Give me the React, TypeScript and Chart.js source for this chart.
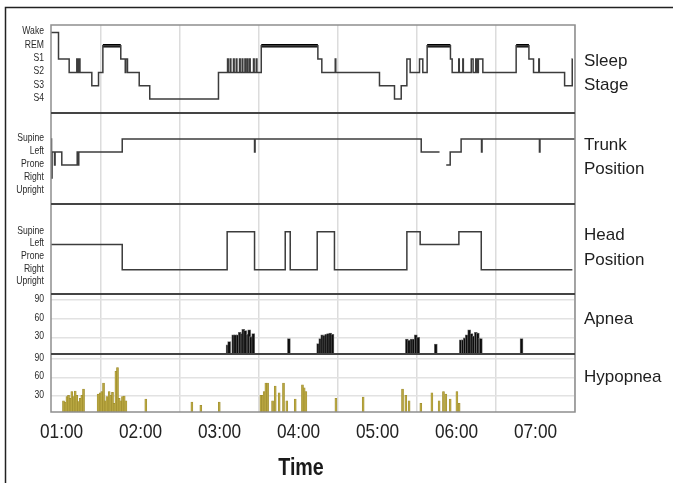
import React, { useEffect, useRef } from 'react';
import { Chart, registerables } from 'chart.js';

Chart.register(...registerables);

// ---- axis labels ----
const HOUR_TICKS = [60, 120, 180, 240, 300, 360, 420];
const TIME_LABELS = ['01:00', '02:00', '03:00', '04:00', '05:00', '06:00', '07:00'];
const STAGE_LABELS = ['S4', 'S3', 'S2', 'S1', 'REM', 'Wake'];
const POSITION_LABELS = ['Upright', 'Right', 'Prone', 'Left', 'Supine'];
const EVENT_TICKS = [30, 60, 90];
const X_TITLE = 'Time';

// ---- sleep stage (minutes since midnight, stage from then on) ----
const stageTimes = [
  52, 57.7, 65.8, 71.6, 72.1, 72.6, 73.1, 73.6, 74.0, 83, 88.1, 91.4, 105, 108.4, 108.8, 110.1, 119, 127,
  179.2, 186.1, 186.6, 188.1, 188.6, 190.6, 191.1, 192.7, 193.2, 195.2, 195.7, 197.2, 197.7, 199.3, 199.8,
  201.0, 201.5, 202.8, 203.3, 205.8, 206.3, 207.9, 208.4, 211.7, 254.7, 257.7, 267.9, 268.3, 301.5, 312.9,
  318, 322.3, 324.8, 331.9, 334.4, 337.7, 355.4, 356.7, 361.7, 362.1, 364.8, 365.2, 371.2, 372.6, 374.6,
  375.1, 375.6, 376.1, 376.6, 380, 405.3, 415, 418.5, 422.5, 422.9, 442.1, 447.9, 448.2,
];
const stageValues = [
  'Wake', 'S1', 'S2', 'S1', 'S2', 'S1', 'S2', 'S1', 'S2', 'S3', 'S2', 'REM', 'S1', 'S2', 'S1', 'S2', 'S3', 'S4',
  'S2', 'S1', 'S2', 'S1', 'S2', 'S1', 'S2', 'S1', 'S2', 'S1', 'S2', 'S1', 'S2', 'S1', 'S2',
  'S1', 'S2', 'S1', 'S2', 'S1', 'S2', 'S1', 'S2', 'REM', 'S1', 'S2', 'S1', 'S2', 'S3', 'S4',
  'S3', 'S1', 'S2', 'S1', 'S2', 'REM', 'S1', 'S2', 'S1', 'S2', 'S1', 'S2', 'S1', 'S2', 'S1',
  'S2', 'S1', 'S2', 'S1', 'S2', 'REM', 'S1', 'S2', 'S1', 'S2', 'S3', 'S1', 'S1',
];

// ---- trunk position ----
const trunkTimes = [
  52, 52.4, 52.8, 54.7, 55.1, 60.2, 71.9, 72.4, 73.1, 106.1, 206.6, 207, 333.2, 347.1, 347.2,
  352.2, 355.2, 363.5, 379, 379.4, 423, 423.4, 450,
];
const trunkValues = [
  'Supine', 'Right', 'Left', 'Prone', 'Left', 'Prone', 'Left', 'Prone', 'Left', 'Supine', 'Left', 'Supine', 'Left', 'Left', null,
  'Prone', 'Left', 'Supine', 'Left', 'Supine', 'Left', 'Supine', 'Supine',
];

// ---- head position ----
const headTimes = [52, 106.1, 185.8, 206.6, 229.9, 233.7, 254.2, 267.3, 322.3, 332.4, 361.8, 378.8, 448];
const headValues = ['Left', 'Right', 'Supine', 'Right', 'Supine', 'Right', 'Supine', 'Right', 'Supine', 'Left', 'Supine', 'Right', 'Right'];

// ---- apnea events ----
const apneaTimes = [
  186.1, 187.3, 190.4, 191.9, 193.7, 195.4, 196.7, 198, 199.5, 201.3, 202.5, 203.8, 205.6, 232.7,
  254.9, 256.5, 258, 259.5, 261, 262.5, 264.1, 265.8, 322.3, 324, 325.8, 327.3, 329.1, 330.9, 344.3,
  363.3, 364.8, 366.3, 367.8, 369.6, 371.4, 372.9, 374.7, 376.2, 377.5, 378.5, 409.4,
];
const apneaValues = [
  18, 23, 34, 34, 34, 38, 36, 43, 41, 35, 42, 31, 36, 28,
  20, 28, 34, 33, 35, 36, 37, 35, 27, 25, 27, 27, 34, 30, 19,
  26, 26, 29, 34, 42, 36, 32, 38, 37, 28, 28, 28,
];

// ---- hypopnea events ----
const hypopneaTimes = [
  61.5, 62.8, 64.1, 65.3, 66.6, 67.8, 69.1, 70.4, 71.6, 72.9, 74.2, 75.4, 76.7,
  87.8, 89.4, 90.6, 91.9, 93.2, 94.4, 96.2, 97.5, 98.7, 100, 101.3, 102.5, 103.8, 105.1, 106.3, 107.6, 108.9,
  124, 159, 165.8, 179.8,
  211.4, 212.7, 213.9, 215.2, 216.5, 220.3, 222.3, 225.3, 228.6, 231.1, 237.5, 243, 244.3, 245.6,
  268.4, 289.1, 319, 321.5, 324, 332.9, 341.3, 346.8, 350.1, 351.9, 355.2, 360.3, 362,
];
const hypopneaValues = [
  22, 20, 29, 31, 26, 37, 29, 38, 31, 21, 26, 31, 41,
  33, 35, 37, 51, 22, 29, 37, 31, 36, 18, 70, 76, 26, 22, 29, 30, 22,
  25, 20, 15, 20,
  31, 31, 37, 51, 51, 22, 46, 35, 51, 22, 25, 48, 43, 37,
  26, 28, 41, 31, 22, 18, 35, 22, 37, 33, 25, 37, 18,
];

const PANEL_TITLES = [
  { axis: 'yStage', lines: ['Sleep', 'Stage'], dy: 4.5 },
  { axis: 'yTrunk', lines: ['Trunk', 'Position'], dy: -1 },
  { axis: 'yHead', lines: ['Head', 'Position'], dy: -1 },
  { axis: 'yApnea', lines: ['Apnea'], dy: -5 },
  { axis: 'yHyp', lines: ['Hypopnea'], dy: -6 },
];

const REGULAR = '"Liberation Sans", Arial, sans-serif';
const SQUEEZE = 0.82; // emulate a narrow face

const toSteps = (times: number[], values: (string | null)[], labels: string[]) =>
  times.map((t, i) => ({ x: t, y: values[i] === null ? null : labels.indexOf(values[i] as string) }));

const remSegments = () => {
  const pts: { x: number; y: number | null }[] = [];
  stageValues.forEach((s, i) => {
    if (s === 'REM' && i + 1 < stageTimes.length) {
      const lvl = STAGE_LABELS.indexOf('REM');
      pts.push({ x: stageTimes[i], y: lvl }, { x: stageTimes[i + 1], y: lvl }, { x: stageTimes[i + 1] + 0.01, y: null });
    }
  });
  return pts;
};

const narrowText = (ctx: any, text: string, x: number, y: number, align: string) => {
  ctx.save();
  ctx.translate(x, y);
  ctx.scale(SQUEEZE, 1);
  ctx.textAlign = align;
  ctx.fillText(text, 0, 0);
  ctx.restore();
};

const panelFrame = {
  id: 'panelFrame',
  afterDraw(chart: any) {
    const { ctx, chartArea: a, scales } = chart;
    ctx.save();
    ctx.strokeStyle = '#8e8e8e';
    ctx.lineWidth = 1.5;
    ctx.strokeRect(a.left, a.top, a.right - a.left, a.bottom - a.top);
    ctx.strokeStyle = '#444';
    ctx.lineWidth = 2;
    ['yStage', 'yTrunk', 'yHead', 'yApnea'].forEach((id) => {
      const y = scales[id].bottom;
      ctx.beginPath();
      ctx.moveTo(a.left, y);
      ctx.lineTo(a.right, y);
      ctx.stroke();
    });

    // panel titles on the right
    ctx.fillStyle = '#1e1e1e';
    ctx.font = '17px ' + REGULAR;
    ctx.textAlign = 'left';
    ctx.textBaseline = 'middle';
    PANEL_TITLES.forEach((p) => {
      const s = scales[p.axis];
      const c = (s.top + s.bottom) / 2 + p.dy;
      p.lines.forEach((ln, i) => {
        ctx.fillText(ln, a.right + 9, c + (i - (p.lines.length - 1) / 2) * 24.5);
      });
    });

    // narrow tick labels
    ctx.fillStyle = '#2a2a2a';
    ctx.font = '10.5px ' + REGULAR;
    ['yStage', 'yTrunk', 'yHead', 'yApnea', 'yHyp'].forEach((id) => {
      const s = scales[id];
      s.ticks.forEach((t: any) => {
        narrowText(ctx, String(t.label ?? ''), a.left - 7, s.getPixelForValue(t.value) - 1, 'right');
      });
    });
    ctx.fillStyle = '#222';
    ctx.font = '21px ' + REGULAR;
    const xs = scales.x;
    HOUR_TICKS.forEach((v, i) => {
      narrowText(ctx, TIME_LABELS[i], xs.getPixelForValue(v), 432, 'center');
    });
    ctx.fillStyle = '#1a1a1a';
    ctx.font = 'bold 24px ' + REGULAR;
    narrowText(ctx, X_TITLE, 301, 468, 'center');

    // figure frame
    ctx.strokeStyle = '#222';
    ctx.lineWidth = 1.5;
    ctx.beginPath();
    ctx.moveTo(5.5, 483);
    ctx.lineTo(5.5, 7.5);
    ctx.lineTo(673, 7.5);
    ctx.stroke();
    ctx.restore();
  },
};

const hiddenTicks = {
  autoSkip: false,
  padding: 7,
  color: 'rgba(0,0,0,0)',
  font: { family: REGULAR, size: 10.5 },
};

const yCat = (labels: string[], min: number, max: number, weight: number) => ({
  type: 'linear',
  position: 'left',
  stack: 'panels',
  stackWeight: weight,
  min,
  max,
  offset: false,
  grid: { display: false, drawTicks: false },
  border: { display: false },
  afterBuildTicks: (axis: any) => {
    axis.ticks = labels.map((_, i) => ({ value: i }));
  },
  afterFit: (axis: any) => {
    axis.width = 51;
  },
  ticks: { ...hiddenTicks, callback: (v: number) => labels[Math.round(v)] },
});

const yEvent = (min: number, max: number, weight: number) => ({
  type: 'linear',
  position: 'left',
  stack: 'panels',
  stackWeight: weight,
  min,
  max,
  offset: false,
  grid: { display: true, drawTicks: false, color: '#e2e2e2', lineWidth: 1.5 },
  border: { display: false },
  afterBuildTicks: (axis: any) => {
    axis.ticks = EVENT_TICKS.map((v) => ({ value: v }));
  },
  afterFit: (axis: any) => {
    axis.width = 51;
  },
  ticks: { ...hiddenTicks, callback: (v: number) => String(v) },
});

export default function App() {
  const ref = useRef<HTMLCanvasElement | null>(null);

  useEffect(() => {
    document.body.style.margin = '0';
    if (!ref.current) return;
    const lineBase = {
      type: 'line',
      xAxisID: 'x',
      stepped: true,
      pointRadius: 0,
      borderColor: '#3c3c3c',
      borderWidth: 1.5,
      fill: false,
      spanGaps: false,
    };
    const chart = new Chart(ref.current, {
      type: 'line',
      data: {
        datasets: [
          { ...lineBase, label: 'Sleep Stage', yAxisID: 'yStage', data: toSteps(stageTimes, stageValues, STAGE_LABELS) },
          { ...lineBase, label: 'REM', yAxisID: 'yStage', data: remSegments(), borderColor: '#000', borderWidth: 3.5, stepped: false },
          { ...lineBase, label: 'Trunk Position', yAxisID: 'yTrunk', data: toSteps(trunkTimes, trunkValues, POSITION_LABELS) },
          { ...lineBase, label: 'Head Position', yAxisID: 'yHead', data: toSteps(headTimes, headValues, POSITION_LABELS) },
          {
            type: 'bar',
            label: 'Apnea',
            xAxisID: 'x',
            yAxisID: 'yApnea',
            data: apneaTimes.map((t, i) => ({ x: t, y: apneaValues[i] })),
            backgroundColor: '#0c0c0c',
            borderColor: '#707070',
            borderWidth: 0.8,
            barThickness: 3,
            grouped: false,
            base: 3,
          },
          {
            type: 'bar',
            label: 'Hypopnea',
            xAxisID: 'x',
            yAxisID: 'yHyp',
            data: hypopneaTimes.map((t, i) => ({ x: t, y: hypopneaValues[i] })),
            backgroundColor: '#b8a640',
            borderColor: '#97862a',
            borderWidth: 0.5,
            barThickness: 2,
            grouped: false,
            base: 4,
          },
        ] as any,
      },
      options: {
        animation: false,
        responsive: false,
        maintainAspectRatio: false,
        devicePixelRatio: 1,
        layout: { padding: { left: 0, right: 98, top: 25, bottom: 0 } },
        plugins: { legend: { display: false }, tooltip: { enabled: false } },
        scales: {
          x: {
            type: 'linear',
            min: 52,
            max: 450,
            offset: false,
            grid: { color: '#dcdcdc', lineWidth: 1.5, drawTicks: false },
            border: { display: false },
            afterBuildTicks: (axis: any) => {
              axis.ticks = HOUR_TICKS.map((v) => ({ value: v }));
            },
            afterFit: (axis: any) => {
              axis.height = 71;
            },
            ticks: {
              autoSkip: false,
              maxRotation: 0,
              padding: 7,
              color: 'rgba(0,0,0,0)',
              font: { family: REGULAR, size: 17 },
              callback: (_v: number, i: number) => TIME_LABELS[i],
            },
          },
          // stacked panels: first listed is placed at the bottom
          yHyp: yEvent(4, 98, 58),
          yApnea: yEvent(3, 100, 60),
          yHead: yCat(POSITION_LABELS, -0.906, 6.18, 90),
          yTrunk: yCat(POSITION_LABELS, -1, 6, 91),
          yStage: yCat(STAGE_LABELS, -1.053, 5.564, 88),
        } as any,
      },
      plugins: [panelFrame],
    });
    return () => chart.destroy();
  }, []);

  return (
    <div style={{ position: 'relative', width: 673, height: 483, background: '#fff' }}>
      <canvas ref={ref} width={673} height={483} style={{ display: 'block' }} />
    </div>
  );
}
